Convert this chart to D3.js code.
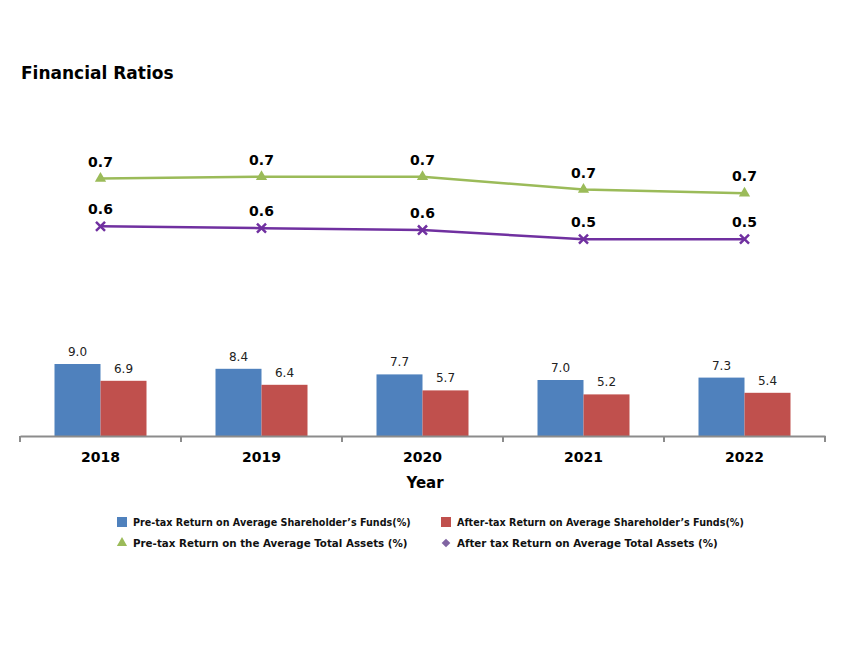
<!DOCTYPE html>
<html>
<head>
<meta charset="utf-8">
<script src="https://cdn.jsdelivr.net/npm/d3@7"></script>
<style>
  body { margin: 0; background: #fff; }
  text { font-family: "DejaVu Sans", Verdana, sans-serif; }
</style>
</head>
<body>
<div id="chart"></div>
<script>
// chart data
const years = ['2018', '2019', '2020', '2021', '2022'];
const preTaxShareholder = [9.0, 8.4, 7.7, 7.0, 7.3];
const afterTaxShareholder = [6.9, 6.4, 5.7, 5.2, 5.4];
const preTaxAssets = [0.70, 0.705, 0.705, 0.67, 0.66];
const afterTaxAssets = [0.57, 0.565, 0.56, 0.535, 0.535];

const seriesNames = [
  'Pre-tax Return on Average Shareholder\u2019s Funds(%)',
  'After-tax Return on Average Shareholder\u2019s Funds(%)',
  'Pre-tax Return on the Average Total Assets (%)',
  'After tax Return on Average Total Assets (%)'
];
const colors = ['#4F81BD', '#C0504D', '#9BBB59', '#7030A0'];

const width = 850;
const height = 649;
const svg = d3.select('#chart').append('svg').attr('width', width).attr('height', height);

const left = 20, right = 825, baseline = 436, plotTop = 116;

const x = d3.scaleBand().domain(years).range([left, right]);
const xInner = d3.scaleBand().domain([0, 1]).range([0, 92]);
const yBar = d3.scaleLinear().domain([0, 40]).range([baseline, plotTop]);
const yLine = d3.scaleLinear().domain([0, 0.87]).range([baseline, plotTop]);

// title
svg.append('text')
  .attr('x', 21).attr('y', 79)
  .attr('font-size', 17).attr('font-weight', 'bold')
  .attr('fill', '#000')
  .text('Financial Ratios');

// bars
const barSeries = [preTaxShareholder, afterTaxShareholder];
barSeries.forEach((vals, i) => {
  const g = svg.append('g');
  g.selectAll('rect')
    .data(vals)
    .enter()
    .append('rect')
    .attr('x', (d, j) => x(years[j]) + x.bandwidth() / 2 - 46 + xInner(i))
    .attr('y', (d) => yBar(d))
    .attr('width', xInner.bandwidth())
    .attr('height', (d) => baseline - yBar(d))
    .attr('fill', colors[i]);
  g.selectAll('text')
    .data(vals)
    .enter()
    .append('text')
    .attr('x', (d, j) => x(years[j]) + x.bandwidth() / 2 - 46 + xInner(i) + xInner.bandwidth() / 2)
    .attr('y', (d) => yBar(d) - 8)
    .attr('text-anchor', 'middle')
    .attr('font-size', 12)
    .attr('fill', '#222')
    .text((d) => d.toFixed(1));
});

// x axis
const axis = svg.append('g')
  .attr('transform', `translate(0, ${baseline})`)
  .call(d3.axisBottom(x).tickSize(0).tickPadding(16));
axis.select('.domain').attr('stroke', '#8c8c8c').attr('stroke-width', 2);
axis.selectAll('text')
  .attr('font-size', 14).attr('font-weight', 'bold').attr('fill', '#000')
  .style('font-family', '"DejaVu Sans", Verdana, sans-serif');
// tick marks between categories
const edges = years.map((d) => x(d)).concat([right]);
axis.selectAll('.sep')
  .data(edges)
  .enter()
  .append('line')
  .attr('class', 'sep')
  .attr('x1', (d) => d).attr('x2', (d) => d)
  .attr('y1', 0).attr('y2', 6)
  .attr('stroke', '#8c8c8c').attr('stroke-width', 2);

svg.append('text')
  .attr('x', 425).attr('y', 488)
  .attr('text-anchor', 'middle')
  .attr('font-size', 15).attr('font-weight', 'bold')
  .text('Year');

// lines
const line = d3.line()
  .x((d, j) => x(years[j]) + x.bandwidth() / 2)
  .y((d) => yLine(d));

const tri = d3.symbol().type(d3.symbolTriangle).size(55);
const cross = d3.symbol().type(d3.symbolTimes).size(55);

[[preTaxAssets, colors[2], tri], [afterTaxAssets, colors[3], cross]].forEach(([vals, color, sym]) => {
  const g = svg.append('g');
  g.append('path')
    .attr('d', line(vals))
    .attr('fill', 'none')
    .attr('stroke', color)
    .attr('stroke-width', 2.5);
  g.selectAll('.mark')
    .data(vals)
    .enter()
    .append('path')
    .attr('class', 'mark')
    .attr('transform', (d, j) => `translate(${x(years[j]) + x.bandwidth() / 2}, ${yLine(d)})`)
    .attr('d', sym())
    .attr('fill', sym === tri ? color : 'none')
    .attr('stroke', color)
    .attr('stroke-width', sym === tri ? 0 : 2.5);
  g.selectAll('.lbl')
    .data(vals)
    .enter()
    .append('text')
    .attr('class', 'lbl')
    .attr('x', (d, j) => x(years[j]) + x.bandwidth() / 2)
    .attr('y', (d) => yLine(d) - 12)
    .attr('text-anchor', 'middle')
    .attr('font-size', 14).attr('font-weight', 'bold')
    .attr('fill', '#000')
    .text((d) => d.toFixed(1));
});

// legend
const legendPos = [[117, 522], [441, 522], [117, 543], [441, 543]];
const legend = svg.append('g');
seriesNames.forEach((name, i) => {
  const [lx, ly] = legendPos[i];
  if (i < 2) {
    legend.append('rect').attr('x', lx).attr('y', ly - 5).attr('width', 10).attr('height', 10).attr('fill', colors[i]);
  } else if (i === 2) {
    legend.append('path')
      .attr('transform', `translate(${lx + 5}, ${ly})`)
      .attr('d', d3.symbol().type(d3.symbolTriangle).size(45)())
      .attr('fill', colors[2]);
  } else {
    legend.append('path')
      .attr('transform', `translate(${lx + 5}, ${ly}) rotate(45)`)
      .attr('d', d3.symbol().type(d3.symbolSquare).size(38)())
      .attr('fill', '#8064A2');
  }
  legend.append('text')
    .attr('x', lx + 16).attr('y', ly + 4)
    .attr('font-size', i < 2 ? 9.6 : 10.3)
    .attr('font-weight', 'bold')
    .attr('fill', '#111')
    .text(name);
});
</script>
</body>
</html>
